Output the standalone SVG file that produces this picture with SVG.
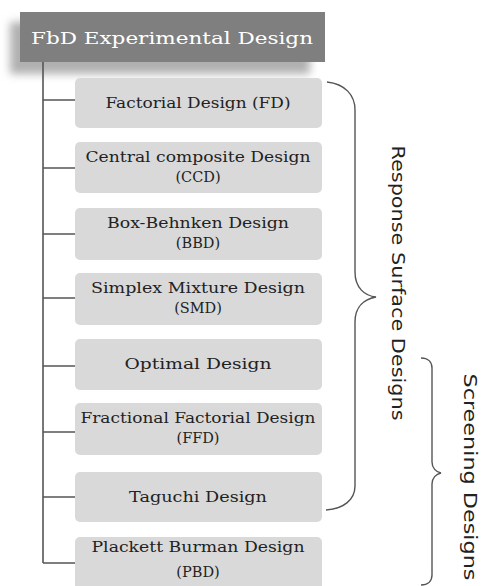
<svg xmlns="http://www.w3.org/2000/svg" width="482" height="586" viewBox="0 0 482 586">
<style>
.box{fill:#d9d9d9;}
.t{font-family:"DejaVu Serif","Liberation Serif",serif;font-size:14.5px;fill:#222;text-anchor:middle;}
.conn{stroke:#555;stroke-width:1.6;fill:none;}
.brace{stroke:#555;stroke-width:1.4;fill:none;}
.side{font-family:"DejaVu Sans","Liberation Sans",sans-serif;font-size:17px;fill:#222;text-anchor:middle;}
</style>
<defs>
<filter id="sh" x="-20%" y="-40%" width="140%" height="180%">
<feGaussianBlur stdDeviation="4"/>
</filter>
</defs>
<rect width="482" height="586" fill="#ffffff"/>
<g id="header">
<rect x="10" y="22" width="300" height="52" fill="#b0b0b0" filter="url(#sh)"/>
<rect x="20" y="12" width="305" height="50" fill="#7f7f7f"/>
<text x="172" y="44" style="font-family:'DejaVu Serif','Liberation Serif',serif;font-size:17px;fill:#ffffff;text-anchor:middle" textLength="282" lengthAdjust="spacingAndGlyphs">FbD Experimental Design</text>
</g>
<g id="connectors">
<path class="conn" d="M43 62 V563"/>
<path class="conn" d="M43 100 H75 M43 168 H75 M43 234 H75 M43 298 H75 M43 366 H75 M43 432 H75 M43 497 H75 M43 563 H75"/>
</g>
<g id="node-fd"><rect class="box" x="75" y="78" width="247" height="50" rx="5"/><text class="t" x="198" y="108" textLength="185" lengthAdjust="spacingAndGlyphs">Factorial Design (FD)</text></g>
<g id="node-ccd"><rect class="box" x="75" y="142" width="247" height="51" rx="5"/><text class="t" x="198" y="162" textLength="225" lengthAdjust="spacingAndGlyphs">Central composite Design</text><text class="t" x="198" y="182">(CCD)</text></g>
<g id="node-bbd"><rect class="box" x="75" y="208" width="247" height="52" rx="5"/><text class="t" x="198" y="228" textLength="182" lengthAdjust="spacingAndGlyphs">Box-Behnken Design</text><text class="t" x="198" y="248">(BBD)</text></g>
<g id="node-smd"><rect class="box" x="75" y="273" width="247" height="52" rx="5"/><text class="t" x="198" y="293" textLength="214" lengthAdjust="spacingAndGlyphs">Simplex Mixture Design</text><text class="t" x="198" y="313">(SMD)</text></g>
<g id="node-od"><rect class="box" x="75" y="339" width="247" height="51" rx="5"/><text class="t" x="198" y="369" textLength="147" lengthAdjust="spacingAndGlyphs">Optimal Design</text></g>
<g id="node-ffd"><rect class="box" x="75" y="403" width="247" height="52" rx="5"/><text class="t" x="198" y="423" textLength="235" lengthAdjust="spacingAndGlyphs">Fractional Factorial Design</text><text class="t" x="198" y="443">(FFD)</text></g>
<g id="node-td"><rect class="box" x="75" y="472" width="247" height="50" rx="5"/><text class="t" x="198" y="502" textLength="138" lengthAdjust="spacingAndGlyphs">Taguchi Design</text></g>
<g id="node-pbd"><rect class="box" x="75" y="537" width="247" height="55" rx="5"/><text class="t" x="198" y="552" textLength="213" lengthAdjust="spacingAndGlyphs">Plackett Burman Design</text><text class="t" x="198" y="577">(PBD)</text></g>
<g id="brace-rsd">
<path class="brace" d="M327 82 C345 84 355 95 355 110 V272 C355 288 365 296 376 297 C365 299 355 306 355 322 V486 C355 500 343 509 326 510"/>
<text class="side" transform="translate(392 283) rotate(90)" textLength="275" lengthAdjust="spacingAndGlyphs">Response Surface Designs</text>
</g>
<g id="brace-sd">
<path class="brace" d="M421 358 C428 358 432 362 432 368 V462 C432 468 436 472 441 473 C436 474 432 478 432 484 V575 C432 581 428 585 421 585"/>
<text class="side" transform="translate(464 477) rotate(90)" textLength="207" lengthAdjust="spacingAndGlyphs">Screening Designs</text>
</g>
</svg>
